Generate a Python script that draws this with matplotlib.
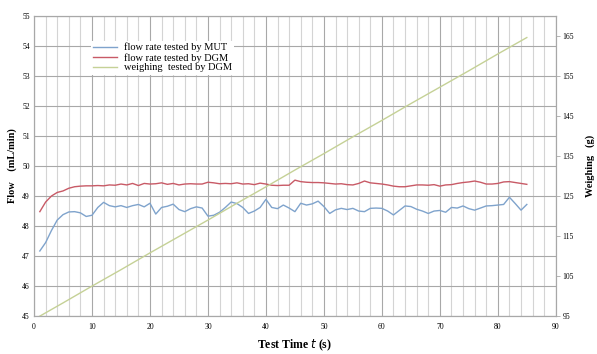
import numpy as np
import matplotlib.pyplot as plt
from matplotlib.ticker import MultipleLocator

plt.rcParams['font.family'] = ['Liberation Serif', 'DejaVu Serif']

# per-second readings, t = 1..85 s
time_s = list(range(1, 86))
flow_mut = [47.17, 47.45, 47.85, 48.20, 48.38, 48.47, 48.48, 48.44, 48.32, 48.36,
            48.62, 48.79, 48.68, 48.64, 48.68, 48.62, 48.68, 48.72, 48.64, 48.76,
            48.40, 48.62, 48.66, 48.73, 48.55, 48.48, 48.58, 48.64, 48.60, 48.33,
            48.36, 48.46, 48.62, 48.80, 48.75, 48.62, 48.42, 48.50, 48.62, 48.89,
            48.62, 48.58, 48.70, 48.60, 48.48, 48.76, 48.70, 48.74, 48.83, 48.65,
            48.42, 48.54, 48.59, 48.55, 48.59, 48.50, 48.48, 48.59, 48.60, 48.59,
            48.50, 48.37, 48.52, 48.67, 48.65, 48.56, 48.50, 48.42, 48.50, 48.52,
            48.46, 48.62, 48.60, 48.67, 48.58, 48.53, 48.60, 48.67, 48.68, 48.70,
            48.72, 48.96, 48.75, 48.53, 48.72]
flow_dgm = [48.48, 48.80, 49.00, 49.12, 49.17, 49.26, 49.31, 49.33, 49.34, 49.34,
            49.35, 49.34, 49.37, 49.36, 49.40, 49.37, 49.42, 49.35, 49.42, 49.40,
            49.41, 49.44, 49.39, 49.42, 49.37, 49.40, 49.41, 49.40, 49.40, 49.46,
            49.44, 49.41, 49.42, 49.41, 49.44, 49.40, 49.41, 49.38, 49.43, 49.40,
            49.36, 49.35, 49.36, 49.36, 49.53, 49.48, 49.46, 49.45, 49.45, 49.44,
            49.42, 49.40, 49.41, 49.38, 49.37, 49.42, 49.50, 49.44, 49.42, 49.40,
            49.37, 49.33, 49.31, 49.31, 49.34, 49.37, 49.37, 49.36, 49.38, 49.33,
            49.37, 49.38, 49.42, 49.45, 49.47, 49.50, 49.46, 49.40, 49.40, 49.42,
            49.47, 49.48, 49.45, 49.42, 49.39]

# weighing (g), read every 5 s
weigh_t = [1, 5, 10, 15, 20, 25, 30, 35, 40, 45, 50, 55, 60, 65, 70, 75, 80, 85]
weigh_g = [95.0, 98.3, 102.5, 106.6, 110.8, 114.9, 119.0, 123.2, 127.3, 131.5,
           135.6, 139.8, 143.9, 148.1, 152.2, 156.3, 160.5, 164.6]

c_mut = '#7fa3cc'
c_dgm = '#c85a66'
c_weigh = '#c5d196'

fig = plt.figure(figsize=(5.97, 3.54), dpi=100)
ax = fig.add_axes([0.057, 0.107, 0.874, 0.848])
ax2 = ax.twinx()

ax.set_xlim(0, 90)
ax.set_ylim(45, 55)
ax2.set_ylim(95, 170)

# grid
ax.xaxis.set_major_locator(MultipleLocator(10))
ax.xaxis.set_minor_locator(MultipleLocator(2))
ax.yaxis.set_major_locator(MultipleLocator(1))
ax.grid(which='minor', axis='x', color='#d4d4d4', lw=0.8)
ax.grid(which='major', axis='x', color='#a8a8a8', lw=0.8)
ax.grid(which='major', axis='y', color='#a8a8a8', lw=0.8)
ax.set_axisbelow(True)

ax2.set_yticks([95, 105, 115, 125, 135, 145, 155, 165])

l1, = ax.plot(time_s, flow_mut, color=c_mut, lw=1.0)
l2, = ax.plot(time_s, flow_dgm, color=c_dgm, lw=1.0)
l3, = ax2.plot(weigh_t, weigh_g, color=c_weigh, lw=1.0)

for a in (ax, ax2):
    for s in a.spines.values():
        s.set_color('#a8a8a8')
        s.set_linewidth(0.8)

ax.tick_params(axis='both', which='both', length=0, labelsize=5.5, pad=3)
ax.tick_params(axis='x', pad=5)
ax2.tick_params(axis='y', length=3, width=0.6, color='#a8a8a8', labelsize=5.5, pad=2)

ax.set_xlabel('Test Time $\\mathit{t}$ (s)', fontsize=8.5, fontweight='bold', labelpad=5)
ax.set_ylabel('Flow    (mL/min)', fontsize=7.5, fontweight='bold', labelpad=4)
ax2.set_ylabel('Weighing   (g)', fontsize=7.5, fontweight='bold', labelpad=8)

leg = ax.legend([l1, l2, l3],
                ['flow rate tested by MUT', 'flow rate tested by DGM', 'weighing  tested by DGM'],
                loc='upper left', bbox_to_anchor=(0.1, 0.935), frameon=True,
                fontsize=7.5, handlelength=2.3, handletextpad=0.6, labelspacing=0.05,
                borderpad=0.2, fancybox=False)
leg.get_frame().set_edgecolor('none')
leg.get_frame().set_facecolor('white')
leg.get_frame().set_alpha(1.0)
leg.set_zorder(5)

fig.savefig('out.png', dpi=100, facecolor='white')
